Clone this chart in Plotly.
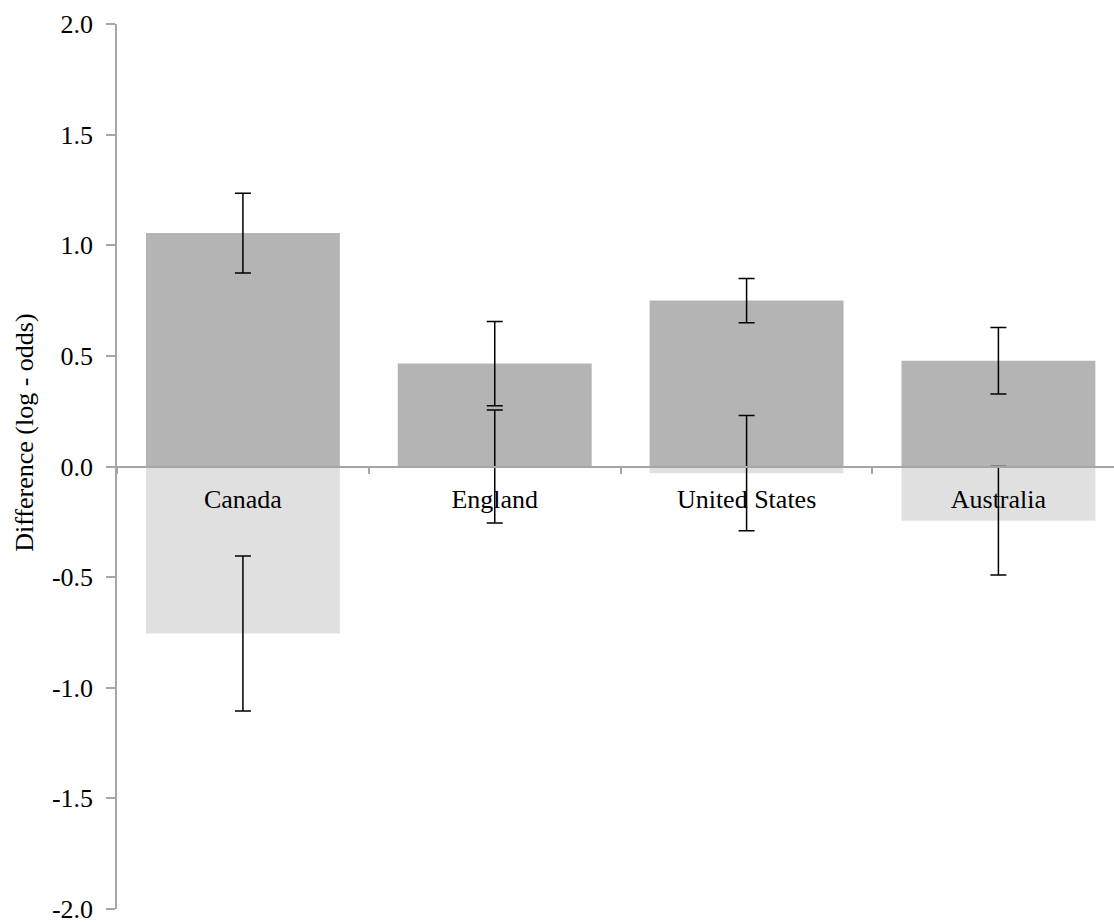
import plotly.graph_objects as go

# Country groups
categories = ["Canada", "England", "United States", "Australia"]

# Upper (dark) estimates and their error half-widths
upper_values = [1.055, 0.465, 0.75, 0.478]
upper_errors = [0.18, 0.19, 0.10, 0.15]

# Lower (light) estimates and their error half-widths
lower_values = [-0.755, 0.0, -0.03, -0.245]
lower_errors = [0.35, 0.255, 0.26, 0.245]

y_ticks = [-2.0, -1.5, -1.0, -0.5, 0.0, 0.5, 1.0, 1.5, 2.0]

FONT = "Liberation Serif, Times New Roman, serif"
AXIS_GREY = "#a6a6a6"

fig = go.Figure()

fig.add_trace(go.Bar(x=categories, y=lower_values, name="lower",
                     marker=dict(color="#e0e0e0", line=dict(width=0))))
fig.add_trace(go.Bar(x=categories, y=upper_values, name="upper",
                     marker=dict(color="#b4b4b4", line=dict(width=0))))

# Error bars drawn on top of both bar layers
for vals, errs in ((upper_values, upper_errors), (lower_values, lower_errors)):
    fig.add_trace(go.Scatter(
        x=categories, y=vals, mode="markers",
        marker=dict(size=0.1, color="rgba(0,0,0,0)"),
        error_y=dict(type="data", array=errs, visible=True,
                     color="black", thickness=1.5, width=8),
        hoverinfo="skip", showlegend=False,
    ))

fig.update_layout(
    width=1114, height=923,
    margin=dict(l=117, r=0, t=24, b=14),
    paper_bgcolor="white", plot_bgcolor="white",
    barmode="overlay", bargap=0.23,
    showlegend=False,
    font=dict(family=FONT, size=26, color="black"),
    xaxis=dict(
        range=[-0.5, 3.459],
        anchor="free", position=0.5,
        showline=True, linecolor=AXIS_GREY, linewidth=1.5,
        ticks="outside", tickson="boundaries", ticklen=7,
        tickcolor=AXIS_GREY, tickwidth=1.5,
        showgrid=False, zeroline=False,
        tickfont=dict(family=FONT, size=26, color="black"),
        ticklabelstandoff=10,
    ),
    yaxis=dict(
        range=[-2.0, 2.0],
        tickvals=y_ticks, ticktext=[f"{v:.1f}" for v in y_ticks],
        showline=True, linecolor=AXIS_GREY, linewidth=1.5,
        ticks="outside", ticklen=9, tickcolor=AXIS_GREY, tickwidth=1.5,
        showgrid=False, zeroline=False,
        tickfont=dict(family=FONT, size=26, color="black"),
        ticklabelstandoff=8,
        ticklabeloverflow="allow",
    ),
    annotations=[dict(
        text="Difference (log - odds)", textangle=-90,
        xref="paper", yref="paper", x=-0.0923, y=0.538,
        xanchor="center", yanchor="middle", showarrow=False,
        font=dict(family=FONT, size=26, color="black"),
    )],
)

fig.write_html("out.html")
